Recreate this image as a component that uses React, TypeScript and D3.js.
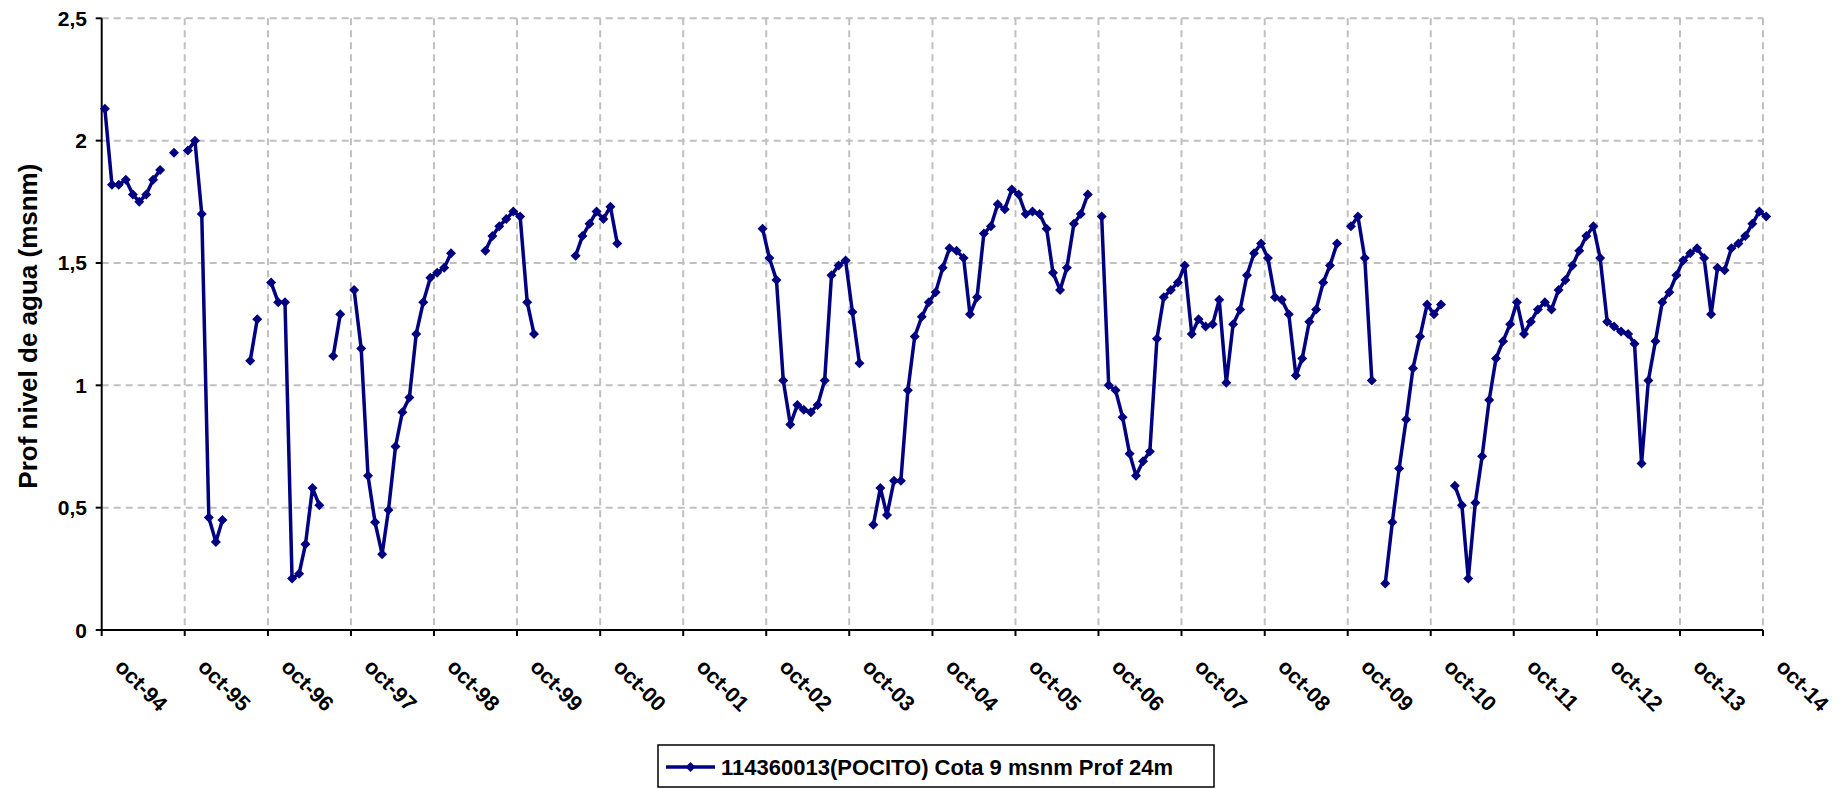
import React from "react";
import * as d3 from "d3";

// Hydrological years (Oct .. Sep); null = no measurement
const season1994 = [2.13, 1.82, 1.82, 1.84, 1.78, 1.75, 1.78, 1.84, 1.88, null, 1.95, null];
const season1995 = [1.96, 2.0, 1.7, 0.46, 0.36, 0.45, null, null, null, 1.1, 1.27, null];
const season1996 = [1.42, 1.34, 1.34, 0.21, 0.23, 0.35, 0.58, 0.51, null, 1.12, 1.29, null];
const season1997 = [1.39, 1.15, 0.63, 0.44, 0.31, 0.49, 0.75, 0.89, 0.95, 1.21, 1.34, 1.44];
const season1998 = [1.46, 1.48, 1.54, null, null, null, null, 1.55, 1.61, 1.65, 1.68, 1.71];
const season1999 = [1.69, 1.34, 1.21, null, null, null, null, null, 1.53, 1.61, 1.66, 1.71];
const season2000 = [1.68, 1.73, 1.58, null, null, null, null, null, null, null, null, null];
const season2001 = [null, null, null, null, null, null, null, null, null, null, null, 1.64];
const season2002 = [1.52, 1.43, 1.02, 0.84, 0.92, 0.9, 0.89, 0.92, 1.02, 1.45, 1.49, 1.51];
const season2003 = [1.3, 1.09, null, 0.43, 0.58, 0.47, 0.61, 0.61, 0.98, 1.2, 1.28, 1.34];
const season2004 = [1.38, 1.48, 1.56, 1.55, 1.52, 1.29, 1.36, 1.62, 1.65, 1.74, 1.72, 1.8];
const season2005 = [1.78, 1.7, 1.71, 1.7, 1.64, 1.46, 1.39, 1.48, 1.66, 1.7, 1.78, null];
const season2006 = [1.69, 1.0, 0.98, 0.87, 0.72, 0.63, 0.69, 0.73, 1.19, 1.36, 1.39, 1.42];
const season2007 = [1.49, 1.21, 1.27, 1.24, 1.25, 1.35, 1.01, 1.25, 1.31, 1.45, 1.54, 1.58];
const season2008 = [1.52, 1.36, 1.35, 1.29, 1.04, 1.11, 1.26, 1.31, 1.42, 1.49, 1.58, null];
const season2009 = [1.65, 1.69, 1.52, 1.02, null, 0.19, 0.44, 0.66, 0.86, 1.07, 1.2, 1.33];
const season2010 = [1.29, 1.33, null, 0.59, 0.51, 0.21, 0.52, 0.71, 0.94, 1.11, 1.18, 1.25];
const season2011 = [1.34, 1.21, 1.26, 1.31, 1.34, 1.31, 1.39, 1.43, 1.49, 1.55, 1.61, 1.65];
const season2012 = [1.52, 1.26, 1.24, 1.22, 1.21, 1.17, 0.68, 1.02, 1.18, 1.34, 1.38, 1.45];
const season2013 = [1.51, 1.54, 1.56, 1.52, 1.29, 1.48, 1.47, 1.56, 1.58, 1.61, 1.66, 1.71];
const season2014 = [1.69];

const seasons: [number, (number | null)[]][] = [
  [1994, season1994], [1995, season1995], [1996, season1996], [1997, season1997],
  [1998, season1998], [1999, season1999], [2000, season2000], [2001, season2001],
  [2002, season2002], [2003, season2003], [2004, season2004], [2005, season2005],
  [2006, season2006], [2007, season2007], [2008, season2008], [2009, season2009],
  [2010, season2010], [2011, season2011], [2012, season2012], [2013, season2013],
  [2014, season2014],
];

const xTickLabels = [
  "oct-94", "oct-95", "oct-96", "oct-97", "oct-98", "oct-99", "oct-00", "oct-01",
  "oct-02", "oct-03", "oct-04", "oct-05", "oct-06", "oct-07", "oct-08", "oct-09",
  "oct-10", "oct-11", "oct-12", "oct-13", "oct-14",
];
const yTickValues = [0, 0.5, 1, 1.5, 2, 2.5];
const yTickLabels = ["0", "0,5", "1", "1,5", "2", "2,5"];
const yTitle = "Prof nivel de agua (msnm)";
const seriesName = "114360013(POCITO) Cota 9 msnm Prof 24m";

type Pt = { date: Date; value: number | null };
const points: Pt[] = [];
seasons.forEach(([yr, vals]) => {
  vals.forEach((v, i) => {
    points.push({ date: new Date(yr, 9 + i, 15), value: v });
  });
});

const W = 1845;
const H = 789;
const X0 = 101.7;
const X1 = 1763;
const Y0 = 630;
const Y1 = 18.3;
const FONT = "Arial, 'Liberation Sans', Helvetica, sans-serif";
const NAVY = "#000080";
const GRID = "#c0c0c0";

export default function App() {
  const x = d3.scaleTime().domain([new Date(1994, 9, 1), new Date(2014, 9, 1)]).range([X0, X1]);
  const y = d3.scaleLinear().domain([0, 2.5]).range([Y0, Y1]);
  const tickDates = xTickLabels.map((_, i) => new Date(1994 + i, 9, 1));

  const line = d3
    .line<Pt>()
    .defined((d) => d.value !== null)
    .x((d) => x(d.date))
    .y((d) => y(d.value as number));

  const diamond = (cx: number, cy: number, r: number) =>
    `M${cx},${cy - r}L${cx + r},${cy}L${cx},${cy + r}L${cx - r},${cy}Z`;

  return (
    <svg
      width={W}
      height={H}
      style={{ position: "absolute", left: 0, top: 0, background: "#fff" }}
      fontFamily={FONT}
    >
      <rect x={0} y={0} width={W} height={H} fill="#fff" />
      {/* grid */}
      {yTickValues.slice(1).map((v) => (
        <line key={"h" + v} x1={X0} x2={X1} y1={y(v)} y2={y(v)} stroke={GRID} strokeWidth={2} strokeDasharray="7,5" />
      ))}
      {tickDates.slice(1).map((d, i) => (
        <line key={"v" + i} x1={x(d)} x2={x(d)} y1={Y1} y2={Y0} stroke={GRID} strokeWidth={2} strokeDasharray="7,5" />
      ))}
      {/* axes */}
      <line x1={X0} x2={X0} y1={Y1} y2={Y0} stroke="#000" strokeWidth={2} />
      <line x1={X0} x2={X1} y1={Y0} y2={Y0} stroke="#000" strokeWidth={2} />
      {yTickValues.map((v, i) => (
        <g key={"yt" + v}>
          <line x1={X0 - 6} x2={X0} y1={y(v)} y2={y(v)} stroke="#000" strokeWidth={2} />
          <text x={87} y={y(v) + 7.5} textAnchor="end" fontSize={21} fontWeight="bold">
            {yTickLabels[i]}
          </text>
        </g>
      ))}
      {tickDates.map((d, i) => (
        <g key={"xt" + i}>
          <line x1={x(d)} x2={x(d)} y1={Y0} y2={Y0 + 6} stroke="#000" strokeWidth={2} />
          <text
            transform={`translate(${x(d) + 12},${668}) rotate(45)`}
            fontSize={21.5}
            fontWeight="bold"
          >
            {xTickLabels[i]}
          </text>
        </g>
      ))}
      <text
        transform={`translate(37,${(Y0 + Y1) / 2 + 2}) rotate(-90)`}
        textAnchor="middle"
        fontSize={26}
        fontWeight="bold"
      >
        {yTitle}
      </text>
      {/* series */}
      <path d={line(points) || ""} fill="none" stroke={NAVY} strokeWidth={3.5} strokeLinejoin="round" />
      {points
        .filter((p) => p.value !== null)
        .map((p, i) => (
          <path key={"m" + i} d={diamond(x(p.date), y(p.value as number), 5)} fill={NAVY} />
        ))}
      {/* legend */}
      <rect x={658} y={745} width={556} height={42} fill="#fff" stroke="#000" strokeWidth={1.5} />
      <line x1={666} x2={715} y1={767} y2={767} stroke={NAVY} strokeWidth={3.5} />
      <path d={diamond(690.5, 767, 5)} fill={NAVY} />
      <text x={721} y={775} fontSize={22} fontWeight="bold">
        {seriesName}
      </text>
    </svg>
  );
}
